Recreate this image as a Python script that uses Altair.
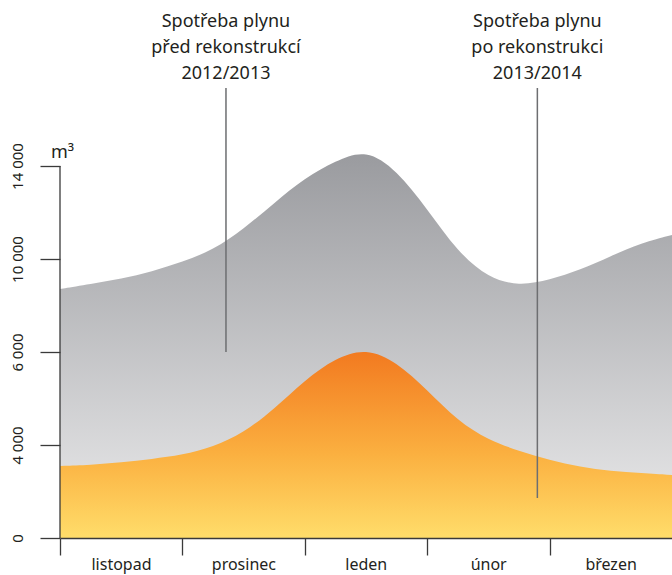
import altair as alt
import pandas as pd

# month index (0 = start of listopad, 5 = end of březen)
t = [0, 0.25, 0.5, 0.75, 1, 1.25, 1.5, 1.75, 2, 2.25, 2.5,
     2.75, 3, 3.25, 3.5, 3.75, 4, 4.25, 4.5, 4.75, 5]
before = [8710, 8925, 9140, 9462, 9871, 10387, 11290, 12409, 13484, 14215, 14731,
          13828, 12151, 10301, 9183, 8839, 9097, 9527, 10129, 10688, 11032]
after = [3097, 3140, 3247, 3398, 3570, 3914, 4258, 4774, 5398, 5871, 6172,
         5785, 5183, 4516, 4108, 3742, 3355, 3054, 2882, 2796, 2710]
months = ["listopad", "prosinec", "leden", "únor", "březen"]
y_ticks = [0, 4000, 6000, 10000, 14000]

ann_x = [1.356, 3.9]
ann_top = [17355, 17355]
ann_bottom = [6000, 1720]
ann_text_y = [19978, 19978]
ann_text = [["Spotřeba plynu", "před rekonstrukcí", "2012/2013"],
            ["Spotřeba plynu", "po rekonstrukci", "2013/2014"]]

df = pd.DataFrame({"t": t, "before": before, "after": after})
ann = pd.DataFrame({"x": ann_x, "top": ann_top, "bottom": ann_bottom,
                    "ty": ann_text_y, "text": ann_text})
axis_line = pd.DataFrame({"x": [0], "y": [min(y_ticks)], "y2": [max(y_ticks)]})

FONT = "Noto Sans"
H = 538
xs = alt.Scale(domain=[0, 5], nice=False, zero=False)
ys = alt.Scale(domain=y_ticks, range=[538, 445, 352, 259, 166], nice=False, zero=False)

label_expr = "[" + ",".join("'%s'" % m for m in months) + "][datum.value]"

x_axis = alt.Axis(values=[0, 1, 2, 3, 4], labelExpr=label_expr, labelOffset=61,
                  tickSize=17, tickColor="#3a3a3a", tickWidth=1.3,
                  domainColor="#3a3a3a", domainWidth=1.3, labelFontSize=16,
                  labelColor="#231f20", labelFont=FONT, labelPadding=1,
                  labelBaseline="top", labelAlign="center", grid=False, title=None,
                  zindex=1)
y_axis = alt.Axis(values=y_ticks, tickSize=20, tickColor="#3a3a3a", tickWidth=1.3,
                  domain=False,
                  labelExpr="replace(format(datum.value, ','), ',', ' ')",
                  labelAngle=270, labelAlign="center", labelBaseline="alphabetic",
                  labelPadding=18, labelFontSize=15, labelColor="#231f20",
                  labelFont=FONT, grid=False,
                  title="m³", titleAngle=0, titleX=2, titleY=157, titleAlign="center",
                  titleBaseline="alphabetic", titleFontSize=18, titleFontWeight="normal",
                  titleFont=FONT, titleColor="#231f20", zindex=1)

gray_grad = alt.Gradient(gradient="linear",
                         stops=[alt.GradientStop(color="#9a9b9f", offset=0),
                                alt.GradientStop(color="#ececed", offset=1)],
                         x1=1, x2=1, y1=0, y2=1)
orange_grad = alt.Gradient(gradient="linear",
                           stops=[alt.GradientStop(color="#f27a20", offset=0),
                                  alt.GradientStop(color="#fbb040", offset=0.55),
                                  alt.GradientStop(color="#ffdd6a", offset=1)],
                           x1=1, x2=1, y1=0, y2=1)

X = lambda f: alt.X(f, scale=xs, axis=x_axis)
Y = lambda f: alt.Y(f, scale=ys, axis=y_axis)

base = alt.Chart(df)
gray = base.mark_area(fill=gray_grad, interpolate="basis", opacity=1).encode(
    x=X("t:Q"),
    y=Y("before:Q"),
)
orange = base.mark_area(fill=orange_grad, interpolate="basis", opacity=1).encode(
    x=X("t:Q"),
    y=Y("after:Q"),
)
yline = alt.Chart(axis_line).mark_rule(color="#3a3a3a", strokeWidth=1.3).encode(
    x=X("x:Q"),
    y=Y("y:Q"),
    y2="y2:Q",
)
rules = alt.Chart(ann).mark_rule(color="#6d6e71", strokeWidth=1.5).encode(
    x=X("x:Q"),
    y=Y("top:Q"),
    y2="bottom:Q",
)
texts = alt.Chart(ann).mark_text(font=FONT, fontSize=18, color="#231f20",
                                 align="center", baseline="alphabetic",
                                 lineHeight=26).encode(
    x=X("x:Q"),
    y=Y("ty:Q"),
    text="text",
)

chart = (
    alt.layer(gray, orange, yline, rules, texts)
    .properties(
        width=612, height=H,
        autosize=alt.AutoSizeParams(type="none"),
        padding={"left": 60, "top": 0, "right": 0, "bottom": 37},
    )
    .configure(font=FONT)
    .configure_view(stroke="transparent", strokeWidth=0)
)

chart.save("out.html", embed_options={"renderer": "svg", "actions": False})
